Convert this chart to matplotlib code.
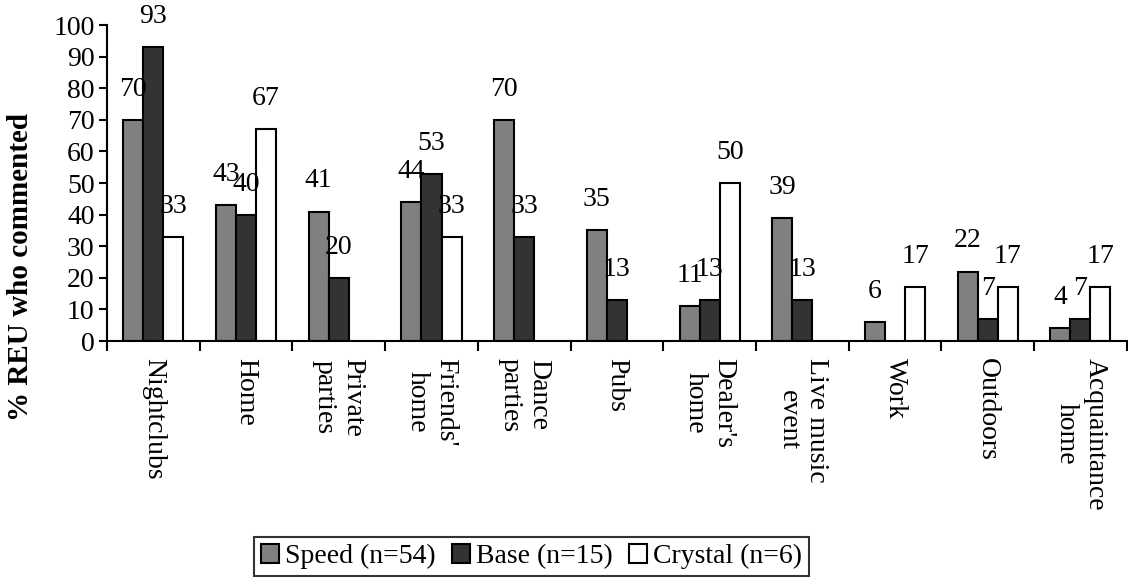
import numpy as np
import matplotlib
matplotlib.use("Agg")
import matplotlib.pyplot as plt
from matplotlib.ticker import FixedLocator

plt.rcParams['font.family'] = ['Liberation Serif', 'DejaVu Serif']

categories = ["Nightclubs", "Home", "Private\nparties", "Friends'\nhome", "Dance\nparties",
              "Pubs", "Dealer's\nhome", "Live music\nevent", "Work", "Outdoors",
              "Acquaintance\nhome"]
speed = [70, 43, 41, 44, 70, 35, 11, 39, 6, 22, 4]
base = [93, 40, 20, 53, 33, 13, 13, 13, None, 7, 7]
crystal = [33, 67, None, 33, None, None, 50, None, 17, 17, 17]
series_names = ["Speed (n=54)", "Base (n=15)", "Crystal (n=6)"]
colors = ["#808080", "#333333", "#ffffff"]

fig = plt.figure(figsize=(11.28, 5.84), dpi=100)
ax = fig.add_axes([0.0949, 0.416, 0.904, 0.541])

x = np.arange(len(categories))
width = 0.216
offsets = [-width, 0, width]

handles = []
for vals, name, col, off in zip([speed, base, crystal], series_names, colors, offsets):
    xs = [xi + off for xi, v in zip(x, vals) if v is not None]
    hs = [v for v in vals if v is not None]
    bars = ax.bar(xs, hs, width, color=col, edgecolor="black", linewidth=1.5, label=name)
    handles.append(bars)
    for bx, h in zip(xs, hs):
        ax.annotate(str(h), (bx, h), xytext=(0, 13), textcoords="offset points",
                    ha="center", va="bottom", fontsize=20)

ax.set_xlim(-0.5, len(categories) - 0.5)
ax.set_ylim(0, 100)
ax.set_yticks(range(0, 101, 10))
ax.tick_params(axis="y", labelsize=20, length=6, width=1.5, direction="out", pad=3)

ax.set_xticks(x)
ax.set_xticklabels(categories, rotation=-90, ha="center", va="top",
                   multialignment="center", fontsize=20)
ax.tick_params(axis="x", which="major", length=0, pad=12)
ax.xaxis.set_minor_locator(FixedLocator(np.arange(len(categories) + 1) - 0.5))
ax.tick_params(axis="x", which="minor", length=7, width=1.5, direction="out")

for s in ["top", "right"]:
    ax.spines[s].set_visible(False)
for s in ["left", "bottom"]:
    ax.spines[s].set_linewidth(1.5)

fig.text(0.018, 0.543, "% REU who commented", rotation=90, ha="center", va="center",
         fontsize=21, fontweight="bold")

leg = fig.legend(handles=handles, loc="center", bbox_to_anchor=(0.471, 0.047), ncol=3,
                 fontsize=20, frameon=True, fancybox=False, edgecolor="black",
                 handlelength=0.65, handleheight=0.65, handletextpad=0.2,
                 columnspacing=0.6, borderpad=0.25, borderaxespad=0)
leg.get_frame().set_linewidth(1.5)

fig.savefig("out.png", dpi=100)
